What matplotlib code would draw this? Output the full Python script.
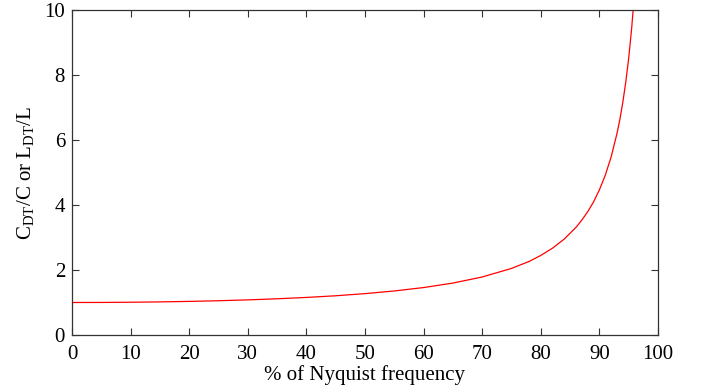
import matplotlib
matplotlib.use('Agg')
import matplotlib.pyplot as plt

# data
# ---------------------------------
pct_nyquist = [0, 5, 10, 15, 20, 25, 30, 35, 40, 45, 50, 55, 60, 65, 70, 75, 78, 80, 82, 84,
               86, 87, 88, 89, 90, 91, 92, 93, 93.5, 94, 94.5, 95, 95.5, 96]
ratio = [1.000, 1.002, 1.008, 1.019, 1.034, 1.054, 1.081, 1.114, 1.156, 1.207, 1.273, 1.355,
         1.460, 1.598, 1.785, 2.049, 2.263, 2.449, 2.672, 2.952, 3.312, 3.535, 3.792, 4.096,
         4.466, 4.915, 5.478, 6.201, 6.640, 7.167, 7.785, 8.517, 9.430, 10.54]

x_ticks = [0, 10, 20, 30, 40, 50, 60, 70, 80, 90, 100]
y_ticks = [0, 2, 4, 6, 8, 10]

# plot
# ----
plt.rcParams['font.family'] = 'Liberation Serif'
plt.rcParams['mathtext.fontset'] = 'custom'
plt.rcParams['mathtext.rm'] = 'Liberation Serif'
plt.rcParams['font.size'] = 15

fig = plt.figure(figsize=(7.03, 3.92), dpi=100)
ax = fig.add_axes([0.1024, 0.1454, 0.8336, 0.8291])
ax.plot(pct_nyquist, ratio, color='red', lw=0.9)
ax.set_xlim(0, 100)
ax.set_ylim(0, 10)
ax.set_xticks(x_ticks)
ax.set_yticks(y_ticks)
ax.tick_params(direction='in', top=True, right=True, length=5, width=0.8, color='#333333')
ax.tick_params(axis='x', pad=7)
ax.tick_params(axis='y', pad=5)
for s in ax.spines.values():
    s.set_color('#333333')
    s.set_linewidth(0.9)
ax.set_xlabel('% of Nyquist frequency', labelpad=1)
ax.set_ylabel(r'C$_{\mathrm{DT}}$/C or L$_{\mathrm{DT}}$/L', labelpad=5)
fig.savefig('out.png', dpi=100)
